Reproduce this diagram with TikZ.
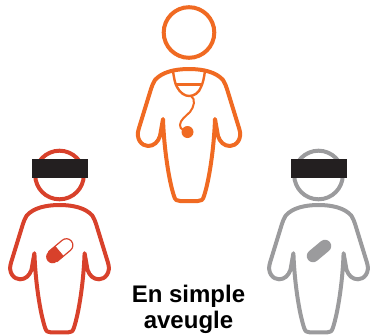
\documentclass[tikz,border=0pt]{standalone}
\usepackage{fontspec}
\setmainfont{Liberation Sans}
\definecolor{docorange}{HTML}{F06A22}
\definecolor{pillred}{HTML}{D8412B}
\definecolor{placebogray}{HTML}{9B9B9D}
\definecolor{maskblack}{HTML}{231F20}
\newcommand{\personbody}[1]{%
  \draw[#1,line width=4pt,line join=round]
    (-34,11) .. controls (-27,3) and (-14,0) .. (0,0)
    .. controls (14,0) and (27,3) .. (34,11)
    .. controls (36,14) and (37,17) .. (38,20)
    -- (50,59) .. controls (54,70) and (47,77) .. (41,77)
    .. controls (35,77) and (31,73) .. (29,67)
    -- (26,50) .. controls (25,80) and (20,112) .. (15,127)
    .. controls (14,131) and (12,132) .. (9,132)
    -- (-9,132) .. controls (-12,132) and (-14,131) .. (-15,127)
    .. controls (-20,112) and (-25,80) .. (-26,50)
    -- (-29,67) .. controls (-31,73) and (-35,77) .. (-41,77)
    .. controls (-47,77) and (-54,70) .. (-50,59)
    -- (-38,20) .. controls (-37,17) and (-36,14) .. (-34,11) -- cycle;
}
\newcommand{\maskedhead}[2]{%
  \draw[#1,line width=4pt] (#2,175) circle (24.3);
  \fill[maskblack] (#2-28,159) rectangle (#2+28,178);
}
\begin{document}
\begin{tikzpicture}[x=1pt,y=-1pt]
\useasboundingbox (0,0) rectangle (370,335);

%% ---------------- doctor ----------------
\draw[docorange,line width=4pt] (189,32.5) circle (25.3);
\begin{scope}[shift={(189,69)}]
  \personbody{docorange}
\end{scope}
\draw[docorange,line width=2.4pt] (173,71) .. controls (174,78) and (175,84) .. (177,87)
  .. controls (180,93) and (185,96) .. (189,96)
  .. controls (194,96) and (199,93) .. (201,87)
  .. controls (203,83) and (204,78) .. (205,71);
\draw[docorange,line width=2.4pt] (176,84.5) -- (202,84.5);
\draw[docorange,line width=2pt] (191,96) .. controls (196,99) and (194,107) .. (190,112)
  .. controls (186,116) and (180,120) .. (180,125) .. controls (180,127) and (181,129) .. (183,130);
\fill[docorange] (187.5,132) circle (6);

%% ---------------- patient, real drug ----------------
\maskedhead{pillred}{59.5}
\begin{scope}[shift={(59.5,205)},yscale=0.965,xscale=0.965]
  \personbody{pillred}
\end{scope}
\begin{scope}[shift={(59.5,251)},rotate=40]
  \fill[pillred] (0,-6.5) -- (-9,-6.5) arc (270:90:6.5) -- (0,6.5) -- cycle;
  \draw[pillred,line width=1.2pt] (-9,-6.5) -- (9,-6.5) arc (-90:90:6.5) -- (-9,6.5);
\end{scope}

%% ---------------- patient, placebo ----------------
\maskedhead{placebogray}{318.5}
\begin{scope}[shift={(318.5,205)},yscale=0.965,xscale=0.965]
  \personbody{placebogray}
\end{scope}
\draw[placebogray,line width=12.5pt,line cap=round] (313,256) -- (325,246);

%% ---------------- label ----------------
\node[font=\fontsize{24}{26.5}\selectfont\bfseries,align=center,text=black,inner sep=0pt] (caption) at (188.5,309.5) {En simple\\aveugle};
\end{tikzpicture}
\end{document}
